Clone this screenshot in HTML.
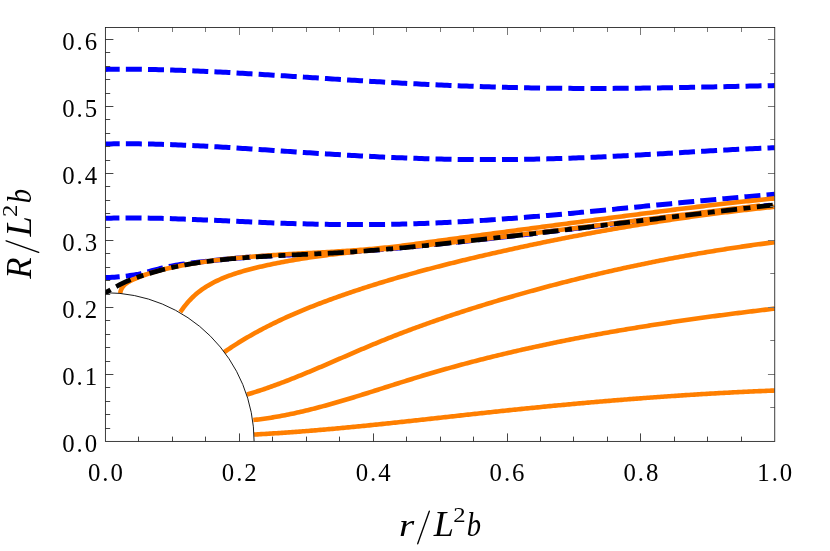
<!DOCTYPE html>
<html>
<head>
<meta charset="utf-8">
<title>R/L^2 b versus r/L^2 b</title>
<style>
html,body{margin:0;padding:0;background:#fff;}
body{width:830px;height:551px;overflow:hidden;font-family:"Liberation Serif",serif;}
svg{display:block;}
svg text{font-family:"Liberation Serif",serif;fill:#000;}
</style>
</head>
<body>
<svg width="830" height="551" viewBox="0 0 830 551">
<rect width="830" height="551" fill="#fff"/>
<defs><clipPath id="plot"><rect x="105.40" y="27.50" width="669.35" height="413.90"/></clipPath></defs>
<g fill="none" stroke-linecap="butt" stroke-linejoin="round" clip-path="url(#plot)">
<path d="M105.40 69.41L108.20 69.37L111.00 69.33L113.80 69.31L116.60 69.29L119.40 69.27L122.20 69.26L125.00 69.26L127.81 69.27L130.61 69.28L133.41 69.29L136.21 69.31L139.01 69.34L141.81 69.37L144.61 69.41L147.41 69.46L150.21 69.51L153.01 69.56L155.81 69.62L158.61 69.68L161.41 69.75L164.21 69.82L167.01 69.90L169.81 69.98L172.62 70.07L175.42 70.16L178.22 70.25L181.02 70.35L183.82 70.45L186.62 70.56L189.42 70.67L192.22 70.78L195.02 70.90L197.82 71.02L200.62 71.14L203.42 71.26L206.22 71.39L209.02 71.52L211.82 71.66L214.62 71.80L217.43 71.94L220.23 72.08L223.03 72.23L225.83 72.37L228.63 72.52L231.43 72.68L234.23 72.83L237.03 72.99L239.83 73.14L242.63 73.30L245.43 73.47L248.23 73.63L251.03 73.80L253.83 73.96L256.63 74.13L259.43 74.30L262.24 74.47L265.04 74.64L267.84 74.82L270.64 74.99L273.44 75.17L276.24 75.34L279.04 75.52L281.84 75.70L284.64 75.87L287.44 76.05L290.24 76.23L293.04 76.41L295.84 76.59L298.64 76.77L301.44 76.95L304.24 77.13L307.05 77.32L309.85 77.50L312.65 77.68L315.45 77.86L318.25 78.04L321.05 78.22L323.85 78.40L326.65 78.58L329.45 78.76L332.25 78.94L335.05 79.12L337.85 79.30L340.65 79.48L343.45 79.65L346.25 79.83L349.05 80.01L351.86 80.18L354.66 80.35L357.46 80.53L360.26 80.70L363.06 80.87L365.86 81.04L368.66 81.21L371.46 81.38L374.26 81.54L377.06 81.71L379.86 81.87L382.66 82.03L385.46 82.19L388.26 82.35L391.06 82.51L393.86 82.67L396.67 82.82L399.47 82.98L402.27 83.13L405.07 83.28L407.87 83.43L410.67 83.58L413.47 83.72L416.27 83.86L419.07 84.00L421.87 84.14L424.67 84.28L427.47 84.42L430.27 84.55L433.07 84.68L435.87 84.81L438.67 84.94L441.48 85.07L444.28 85.19L447.08 85.31L449.88 85.43L452.68 85.55L455.48 85.66L458.28 85.78L461.08 85.89L463.88 86.00L466.68 86.10L469.48 86.21L472.28 86.31L475.08 86.41L477.88 86.50L480.68 86.60L483.48 86.69L486.29 86.78L489.09 86.87L491.89 86.95L494.69 87.04L497.49 87.12L500.29 87.20L503.09 87.27L505.89 87.35L508.69 87.42L511.49 87.49L514.29 87.55L517.09 87.62L519.89 87.68L522.69 87.74L525.49 87.79L528.29 87.85L531.10 87.90L533.90 87.95L536.70 87.99L539.50 88.04L542.30 88.08L545.10 88.12L547.90 88.16L550.70 88.19L553.50 88.23L556.30 88.26L559.10 88.28L561.90 88.31L564.70 88.33L567.50 88.35L570.30 88.37L573.10 88.39L575.91 88.40L578.71 88.41L581.51 88.42L584.31 88.43L587.11 88.44L589.91 88.44L592.71 88.44L595.51 88.44L598.31 88.44L601.11 88.43L603.91 88.42L606.71 88.41L609.51 88.40L612.31 88.39L615.11 88.37L617.91 88.36L620.72 88.34L623.52 88.32L626.32 88.29L629.12 88.27L631.92 88.24L634.72 88.21L637.52 88.19L640.32 88.15L643.12 88.12L645.92 88.09L648.72 88.05L651.52 88.01L654.32 87.97L657.12 87.93L659.92 87.89L662.72 87.85L665.53 87.80L668.33 87.76L671.13 87.71L673.93 87.66L676.73 87.61L679.53 87.56L682.33 87.51L685.13 87.46L687.93 87.40L690.73 87.35L693.53 87.29L696.33 87.24L699.13 87.18L701.93 87.12L704.73 87.06L707.53 87.01L710.34 86.95L713.14 86.89L715.94 86.83L718.74 86.77L721.54 86.71L724.34 86.65L727.14 86.59L729.94 86.53L732.74 86.46L735.54 86.40L738.34 86.34L741.14 86.28L743.94 86.22L746.74 86.16L749.54 86.10L752.34 86.04L755.15 85.99L757.95 85.93L760.75 85.87L763.55 85.81L766.35 85.76L769.15 85.70L771.95 85.65L774.75 85.60" stroke="#0000ff" stroke-width="5.00" stroke-dasharray="16 6.15" stroke-dashoffset="1.70"/>
<path d="M105.40 144.01L108.20 143.95L111.00 143.90L113.80 143.86L116.60 143.83L119.40 143.81L122.20 143.79L125.00 143.78L127.81 143.78L130.61 143.79L133.41 143.80L136.21 143.82L139.01 143.85L141.81 143.89L144.61 143.93L147.41 143.98L150.21 144.03L153.01 144.10L155.81 144.16L158.61 144.24L161.41 144.31L164.21 144.40L167.01 144.49L169.81 144.58L172.62 144.68L175.42 144.79L178.22 144.90L181.02 145.01L183.82 145.13L186.62 145.25L189.42 145.38L192.22 145.51L195.02 145.64L197.82 145.78L200.62 145.92L203.42 146.07L206.22 146.22L209.02 146.37L211.82 146.53L214.62 146.68L217.43 146.84L220.23 147.01L223.03 147.17L225.83 147.34L228.63 147.51L231.43 147.68L234.23 147.85L237.03 148.03L239.83 148.21L242.63 148.39L245.43 148.57L248.23 148.75L251.03 148.93L253.83 149.11L256.63 149.30L259.43 149.49L262.24 149.67L265.04 149.86L267.84 150.05L270.64 150.23L273.44 150.42L276.24 150.61L279.04 150.80L281.84 150.99L284.64 151.18L287.44 151.37L290.24 151.55L293.04 151.74L295.84 151.93L298.64 152.11L301.44 152.30L304.24 152.48L307.05 152.67L309.85 152.85L312.65 153.03L315.45 153.22L318.25 153.40L321.05 153.57L323.85 153.75L326.65 153.93L329.45 154.10L332.25 154.27L335.05 154.44L337.85 154.61L340.65 154.78L343.45 154.95L346.25 155.11L349.05 155.27L351.86 155.43L354.66 155.59L357.46 155.74L360.26 155.89L363.06 156.04L365.86 156.19L368.66 156.34L371.46 156.48L374.26 156.62L377.06 156.76L379.86 156.89L382.66 157.02L385.46 157.15L388.26 157.28L391.06 157.40L393.86 157.52L396.67 157.64L399.47 157.75L402.27 157.87L405.07 157.97L407.87 158.08L410.67 158.18L413.47 158.28L416.27 158.37L419.07 158.47L421.87 158.56L424.67 158.64L427.47 158.72L430.27 158.80L433.07 158.88L435.87 158.95L438.67 159.02L441.48 159.08L444.28 159.14L447.08 159.20L449.88 159.25L452.68 159.30L455.48 159.35L458.28 159.39L461.08 159.43L463.88 159.47L466.68 159.50L469.48 159.53L472.28 159.55L475.08 159.57L477.88 159.59L480.68 159.60L483.48 159.61L486.29 159.62L489.09 159.62L491.89 159.62L494.69 159.62L497.49 159.61L500.29 159.60L503.09 159.58L505.89 159.56L508.69 159.54L511.49 159.51L514.29 159.48L517.09 159.45L519.89 159.41L522.69 159.37L525.49 159.33L528.29 159.28L531.10 159.23L533.90 159.17L536.70 159.11L539.50 159.05L542.30 158.99L545.10 158.92L547.90 158.85L550.70 158.77L553.50 158.69L556.30 158.61L559.10 158.53L561.90 158.44L564.70 158.35L567.50 158.26L570.30 158.16L573.10 158.06L575.91 157.96L578.71 157.85L581.51 157.74L584.31 157.63L587.11 157.52L589.91 157.40L592.71 157.28L595.51 157.16L598.31 157.04L601.11 156.91L603.91 156.78L606.71 156.65L609.51 156.52L612.31 156.38L615.11 156.24L617.91 156.10L620.72 155.96L623.52 155.82L626.32 155.67L629.12 155.52L631.92 155.38L634.72 155.22L637.52 155.07L640.32 154.92L643.12 154.76L645.92 154.61L648.72 154.45L651.52 154.29L654.32 154.13L657.12 153.97L659.92 153.81L662.72 153.64L665.53 153.48L668.33 153.32L671.13 153.15L673.93 152.99L676.73 152.82L679.53 152.66L682.33 152.49L685.13 152.33L687.93 152.16L690.73 152.00L693.53 151.83L696.33 151.67L699.13 151.50L701.93 151.34L704.73 151.18L707.53 151.01L710.34 150.85L713.14 150.69L715.94 150.53L718.74 150.38L721.54 150.22L724.34 150.07L727.14 149.91L729.94 149.76L732.74 149.61L735.54 149.47L738.34 149.32L741.14 149.18L743.94 149.04L746.74 148.90L749.54 148.77L752.34 148.63L755.15 148.51L757.95 148.38L760.75 148.26L763.55 148.14L766.35 148.02L769.15 147.91L771.95 147.80L774.75 147.70" stroke="#0000ff" stroke-width="5.00" stroke-dasharray="16 6.15" stroke-dashoffset="1.70"/>
<path d="M105.40 218.31L108.20 218.23L111.00 218.16L113.80 218.10L116.60 218.05L119.40 218.01L122.20 217.98L125.00 217.96L127.81 217.95L130.61 217.94L133.41 217.95L136.21 217.96L139.01 217.98L141.81 218.01L144.61 218.04L147.41 218.08L150.21 218.13L153.01 218.18L155.81 218.24L158.61 218.31L161.41 218.37L164.21 218.45L167.01 218.53L169.81 218.61L172.62 218.70L175.42 218.79L178.22 218.89L181.02 218.99L183.82 219.09L186.62 219.20L189.42 219.30L192.22 219.41L195.02 219.53L197.82 219.64L200.62 219.76L203.42 219.88L206.22 220.00L209.02 220.12L211.82 220.24L214.62 220.37L217.43 220.49L220.23 220.62L223.03 220.74L225.83 220.87L228.63 220.99L231.43 221.12L234.23 221.24L237.03 221.37L239.83 221.49L242.63 221.62L245.43 221.74L248.23 221.86L251.03 221.98L253.83 222.10L256.63 222.22L259.43 222.33L262.24 222.45L265.04 222.56L267.84 222.67L270.64 222.78L273.44 222.88L276.24 222.99L279.04 223.09L281.84 223.19L284.64 223.28L287.44 223.38L290.24 223.47L293.04 223.55L295.84 223.64L298.64 223.72L301.44 223.80L304.24 223.87L307.05 223.95L309.85 224.02L312.65 224.08L315.45 224.14L318.25 224.20L321.05 224.25L323.85 224.31L326.65 224.35L329.45 224.40L332.25 224.44L335.05 224.47L337.85 224.50L340.65 224.53L343.45 224.55L346.25 224.57L349.05 224.59L351.86 224.60L354.66 224.61L357.46 224.61L360.26 224.61L363.06 224.60L365.86 224.59L368.66 224.58L371.46 224.56L374.26 224.54L377.06 224.51L379.86 224.48L382.66 224.44L385.46 224.40L388.26 224.36L391.06 224.31L393.86 224.26L396.67 224.20L399.47 224.14L402.27 224.07L405.07 224.00L407.87 223.93L410.67 223.85L413.47 223.77L416.27 223.68L419.07 223.59L421.87 223.49L424.67 223.39L427.47 223.29L430.27 223.18L433.07 223.07L435.87 222.95L438.67 222.83L441.48 222.70L444.28 222.58L447.08 222.44L449.88 222.31L452.68 222.17L455.48 222.02L458.28 221.87L461.08 221.72L463.88 221.57L466.68 221.41L469.48 221.24L472.28 221.08L475.08 220.91L477.88 220.73L480.68 220.56L483.48 220.38L486.29 220.19L489.09 220.01L491.89 219.82L494.69 219.62L497.49 219.43L500.29 219.23L503.09 219.02L505.89 218.82L508.69 218.61L511.49 218.40L514.29 218.18L517.09 217.97L519.89 217.75L522.69 217.52L525.49 217.30L528.29 217.07L531.10 216.84L533.90 216.61L536.70 216.38L539.50 216.14L542.30 215.90L545.10 215.66L547.90 215.42L550.70 215.17L553.50 214.92L556.30 214.67L559.10 214.42L561.90 214.17L564.70 213.92L567.50 213.66L570.30 213.40L573.10 213.15L575.91 212.88L578.71 212.62L581.51 212.36L584.31 212.10L587.11 211.83L589.91 211.56L592.71 211.30L595.51 211.03L598.31 210.76L601.11 210.49L603.91 210.22L606.71 209.95L609.51 209.68L612.31 209.40L615.11 209.13L617.91 208.86L620.72 208.58L623.52 208.31L626.32 208.03L629.12 207.76L631.92 207.48L634.72 207.21L637.52 206.93L640.32 206.66L643.12 206.38L645.92 206.11L648.72 205.83L651.52 205.56L654.32 205.28L657.12 205.01L659.92 204.74L662.72 204.46L665.53 204.19L668.33 203.92L671.13 203.65L673.93 203.38L676.73 203.11L679.53 202.84L682.33 202.57L685.13 202.30L687.93 202.03L690.73 201.77L693.53 201.50L696.33 201.24L699.13 200.97L701.93 200.71L704.73 200.45L707.53 200.19L710.34 199.93L713.14 199.67L715.94 199.42L718.74 199.16L721.54 198.90L724.34 198.65L727.14 198.40L729.94 198.15L732.74 197.90L735.54 197.65L738.34 197.40L741.14 197.16L743.94 196.91L746.74 196.67L749.54 196.43L752.34 196.19L755.15 195.95L757.95 195.71L760.75 195.47L763.55 195.24L766.35 195.00L769.15 194.77L771.95 194.54L774.75 194.31" stroke="#0000ff" stroke-width="5.00" stroke-dasharray="16 6.15" stroke-dashoffset="2.00"/>
<path d="M105.40 277.61L107.63 277.53L109.86 277.42L112.10 277.30L114.33 277.16L116.57 277.00L118.80 276.82L121.03 276.62L123.26 276.40L125.49 276.15L127.71 275.89L129.93 275.59L132.14 275.27L134.35 274.91L136.55 274.51L138.74 274.08L140.92 273.59L143.09 273.05L145.25 272.48L147.41 271.90L149.58 271.32L151.74 270.74L153.90 270.17L156.07 269.61L158.24 269.07L160.41 268.53L162.59 268.01L164.77 267.51L166.95 267.03L169.13 266.56L171.32 266.12L173.52 265.70L175.72 265.30L177.92 264.93L180.13 264.59L182.34 264.26L184.56 263.95L186.78 263.66L189.00 263.37L191.22 263.10L193.45 262.83L195.67 262.57L197.89 262.31L200.12 262.05L202.34 261.79L204.57 261.53L206.79 261.28L209.02 261.02L211.24 260.77L213.47 260.53L215.69 260.29L217.92 260.05L220.15 259.81L222.37 259.58L224.60 259.35L226.83 259.13L229.05 258.91L231.28 258.69L233.51 258.48L235.74 258.28L237.96 258.08L240.19 257.89L242.42 257.70L244.65 257.52L246.88 257.35L249.11 257.18L251.35 257.02L253.58 256.86L255.81 256.71L258.04 256.56L260.27 256.42L262.51 256.28L264.74 256.15L266.98 256.02L269.21 255.90L271.44 255.78L273.68 255.66L275.91 255.55L278.15 255.44L280.38 255.33L282.62 255.22L284.85 255.12L287.09 255.02L289.33 254.91L291.56 254.82L293.80 254.72L296.03 254.62L298.27 254.52L300.51 254.43L302.74 254.33L304.98 254.23L307.21 254.14L309.45 254.04L311.69 253.94L313.92 253.84L316.16 253.74L318.39 253.64L320.63 253.53L322.87 253.43L325.10 253.32L327.34 253.21L329.57 253.09L331.81 252.97L334.04 252.85L336.27 252.73L338.51 252.60L340.74 252.47L342.98 252.33L345.21 252.19L347.44 252.05L349.68 251.90L351.91 251.75L354.14 251.60L356.37 251.44L358.60 251.28L360.84 251.12L363.07 250.95L365.30 250.78L367.53 250.61L369.76 250.43L371.99 250.26L374.22 250.08L376.45 249.89L378.68 249.71L380.91 249.52L383.14 249.33L385.37 249.14L387.60 248.94L389.83 248.75L392.06 248.55L394.29 248.35L396.51 248.14L398.74 247.94L400.97 247.73L403.20 247.52L405.43 247.31L407.65 247.10L409.88 246.89L412.11 246.67L414.34 246.46L416.56 246.24L418.79 246.02L421.02 245.80L423.25 245.58L425.47 245.35L427.70 245.13L429.93 244.91L432.15 244.68L434.38 244.45L436.60 244.23L438.83 244.00L441.06 243.77L443.28 243.54L445.51 243.30L447.73 243.07L449.96 242.84L452.18 242.60L454.41 242.37L456.64 242.13L458.86 241.90L461.09 241.66L463.31 241.42L465.54 241.18L467.76 240.94L469.98 240.70L472.21 240.45L474.43 240.21L476.66 239.97L478.88 239.72L481.11 239.48L483.33 239.23L485.55 238.98L487.78 238.74L490.00 238.49L492.23 238.24L494.45 237.99L496.67 237.74L498.90 237.49L501.12 237.24L503.34 236.98L505.57 236.73L507.79 236.48L510.01 236.22L512.24 235.97L514.46 235.71L516.68 235.46L518.91 235.20L521.13 234.94L523.35 234.69L525.58 234.43L527.80 234.17L530.02 233.91L532.24 233.65L534.47 233.39L536.69 233.13L538.91 232.87L541.13 232.61L543.36 232.34L545.58 232.08L547.80 231.82L550.02 231.55L552.24 231.29L554.47 231.03L556.69 230.76L558.91 230.50L561.13 230.23L563.35 229.96L565.58 229.70L567.80 229.43L570.02 229.17L572.24 228.90L574.46 228.63L576.69 228.36L578.91 228.10L581.13 227.83L583.35 227.56L585.57 227.29L587.79 227.02L590.02 226.75L592.24 226.48L594.46 226.21L596.68 225.94L598.90 225.67L601.12 225.41L603.34 225.14L605.57 224.86L607.79 224.59L610.01 224.32L612.23 224.05L614.45 223.78L616.67 223.51L618.89 223.24L621.12 222.97L623.34 222.70L625.56 222.43L627.78 222.16L630.00 221.89L632.22 221.62L634.44 221.35L636.67 221.08L638.89 220.80L641.11 220.53L643.33 220.26L645.55 219.99L647.77 219.72L649.99 219.45L652.22 219.18L654.44 218.91L656.66 218.64L658.88 218.37L661.10 218.10L663.32 217.83L665.54 217.56L667.77 217.29L669.99 217.03L672.21 216.76L674.43 216.49L676.65 216.22L678.87 215.95L681.10 215.68L683.32 215.42L685.54 215.15L687.76 214.88L689.98 214.62L692.21 214.35L694.43 214.08L696.65 213.82L698.87 213.55L701.09 213.29L703.31 213.02L705.54 212.76L707.76 212.49L709.98 212.23L712.20 211.97L714.43 211.71L716.65 211.44L718.87 211.18L721.09 210.92L723.32 210.66L725.54 210.40L727.76 210.14L729.98 209.88L732.21 209.62L734.43 209.36L736.65 209.11L738.87 208.85L741.10 208.59L743.32 208.34L745.54 208.08L747.77 207.83L749.99 207.57L752.21 207.32L754.44 207.07L756.66 206.81L758.88 206.56L761.11 206.31L763.33 206.06L765.55 205.81L767.78 205.56L770.00 205.32" stroke="#0000ff" stroke-width="5.00" stroke-dasharray="16 6.15" stroke-dashoffset="1.70"/>
<path d="M254.10 434.52L255.85 434.43L257.59 434.34L259.34 434.24L261.08 434.15L262.83 434.05L264.57 433.95L266.32 433.85L268.06 433.74L269.81 433.64L271.55 433.53L273.30 433.42L275.04 433.31L276.79 433.20L278.53 433.09L280.27 432.97L282.02 432.85L283.76 432.74L285.50 432.62L287.25 432.49L288.99 432.37L290.73 432.25L292.48 432.12L294.22 431.99L295.96 431.86L297.70 431.73L299.45 431.60L301.19 431.47L302.93 431.33L304.67 431.20L306.41 431.06L308.16 430.92L309.90 430.78L311.64 430.64L313.38 430.50L315.12 430.35L316.86 430.21L318.60 430.06L320.35 429.91L322.09 429.76L323.83 429.61L325.57 429.46L327.31 429.31L329.05 429.16L330.79 429.00L332.53 428.84L334.27 428.69L336.01 428.53L337.75 428.37L339.49 428.21L341.23 428.05L342.97 427.89L344.71 427.72L346.45 427.56L348.19 427.39L349.93 427.23L351.67 427.06L353.41 426.89L355.15 426.72L356.89 426.55L358.62 426.38L360.36 426.21L362.10 426.04L363.84 425.87L365.58 425.69L367.32 425.52L369.06 425.34L370.80 425.16L372.53 424.99L374.27 424.81L376.01 424.63L377.75 424.45L379.49 424.27L381.23 424.09L382.97 423.91L384.70 423.73L386.44 423.55L388.18 423.37L389.92 423.18L391.66 423.00L393.39 422.81L395.13 422.63L396.87 422.44L398.61 422.26L400.35 422.07L402.08 421.89L403.82 421.70L405.56 421.51L407.30 421.32L409.03 421.13L410.77 420.95L412.51 420.76L414.25 420.57L415.99 420.38L417.72 420.19L419.46 420.00L421.20 419.81L422.94 419.62L424.67 419.43L426.41 419.24L428.15 419.04L429.89 418.85L431.62 418.66L433.36 418.47L435.10 418.28L436.84 418.09L438.57 417.89L440.31 417.70L442.05 417.51L443.79 417.32L445.52 417.13L447.26 416.93L449.00 416.74L450.74 416.55L452.47 416.36L454.21 416.17L455.95 415.97L457.69 415.78L459.42 415.59L461.16 415.40L462.90 415.21L464.64 415.02L466.37 414.83L468.11 414.64L469.85 414.44L471.59 414.25L473.32 414.06L475.06 413.87L476.80 413.69L478.54 413.50L480.28 413.31L482.01 413.12L483.75 412.93L485.49 412.74L487.23 412.56L488.97 412.37L490.70 412.18L492.44 412.00L494.18 411.81L495.92 411.63L497.66 411.44L499.39 411.26L501.13 411.07L502.87 410.89L504.61 410.71L506.35 410.53L508.09 410.34L509.83 410.16L511.56 409.98L513.30 409.80L515.04 409.62L516.78 409.45L518.52 409.27L520.26 409.09L522.00 408.91L523.74 408.74L525.48 408.56L527.22 408.38L528.95 408.21L530.69 408.04L532.43 407.86L534.17 407.69L535.91 407.52L537.65 407.35L539.39 407.17L541.13 407.00L542.87 406.83L544.61 406.66L546.35 406.50L548.09 406.33L549.83 406.16L551.57 405.99L553.31 405.83L555.05 405.66L556.79 405.49L558.53 405.33L560.27 405.17L562.01 405.00L563.75 404.84L565.49 404.68L567.23 404.52L568.97 404.36L570.71 404.20L572.45 404.04L574.19 403.88L575.93 403.72L577.67 403.56L579.42 403.40L581.16 403.25L582.90 403.09L584.64 402.94L586.38 402.78L588.12 402.63L589.86 402.48L591.60 402.32L593.34 402.17L595.08 402.02L596.83 401.87L598.57 401.72L600.31 401.57L602.05 401.42L603.79 401.28L605.53 401.13L607.28 400.98L609.02 400.84L610.76 400.69L612.50 400.55L614.24 400.40L615.98 400.26L617.73 400.12L619.47 399.98L621.21 399.84L622.95 399.70L624.70 399.56L626.44 399.42L628.18 399.28L629.92 399.14L631.66 399.01L633.41 398.87L635.15 398.74L636.89 398.60L638.64 398.47L640.38 398.34L642.12 398.20L643.86 398.07L645.61 397.94L647.35 397.81L649.09 397.68L650.84 397.55L652.58 397.43L654.32 397.30L656.07 397.17L657.81 397.05L659.55 396.92L661.30 396.80L663.04 396.68L664.78 396.55L666.53 396.43L668.27 396.31L670.01 396.19L671.76 396.07L673.50 395.96L675.25 395.84L676.99 395.72L678.73 395.60L680.48 395.49L682.22 395.38L683.97 395.26L685.71 395.15L687.45 395.04L689.20 394.93L690.94 394.81L692.69 394.71L694.43 394.60L696.18 394.49L697.92 394.38L699.67 394.27L701.41 394.17L703.16 394.06L704.90 393.96L706.65 393.86L708.39 393.76L710.14 393.65L711.88 393.55L713.63 393.45L715.37 393.35L717.12 393.26L718.86 393.16L720.61 393.06L722.35 392.97L724.10 392.87L725.85 392.78L727.59 392.69L729.34 392.59L731.08 392.50L732.83 392.41L734.58 392.32L736.32 392.23L738.07 392.15L739.81 392.06L741.56 391.97L743.31 391.89L745.05 391.80L746.80 391.72L748.55 391.64L750.29 391.56L752.04 391.48L753.79 391.40L755.53 391.32L757.28 391.24L759.03 391.16L760.77 391.09L762.52 391.01L764.27 390.94L766.01 390.86L767.76 390.79L769.51 390.72L771.26 390.65L773.00 390.58L774.75 390.51" stroke="#ff7f00" stroke-width="4.60"/>
<path d="M253.30 420.02L255.09 419.83L256.87 419.63L258.65 419.42L260.43 419.19L262.21 418.96L263.98 418.72L265.75 418.47L267.52 418.22L269.29 417.95L271.05 417.67L272.82 417.39L274.58 417.10L276.34 416.80L278.10 416.49L279.85 416.17L281.61 415.85L283.36 415.52L285.11 415.18L286.86 414.83L288.61 414.48L290.35 414.12L292.10 413.75L293.84 413.38L295.58 413.00L297.32 412.61L299.06 412.22L300.80 411.82L302.53 411.42L304.27 411.01L306.00 410.59L307.73 410.17L309.46 409.74L311.19 409.31L312.92 408.87L314.64 408.43L316.37 407.98L318.09 407.53L319.82 407.08L321.54 406.62L323.26 406.15L324.98 405.68L326.70 405.21L328.42 404.73L330.14 404.25L331.86 403.77L333.57 403.28L335.29 402.79L337.00 402.29L338.72 401.79L340.43 401.29L342.14 400.79L343.85 400.28L345.57 399.77L347.28 399.26L348.99 398.75L350.70 398.23L352.41 397.71L354.11 397.19L355.82 396.66L357.53 396.14L359.24 395.61L360.94 395.08L362.65 394.55L364.36 394.02L366.06 393.48L367.77 392.95L369.47 392.41L371.18 391.87L372.89 391.33L374.59 390.79L376.29 390.25L378.00 389.71L379.70 389.17L381.41 388.63L383.11 388.09L384.82 387.55L386.52 387.00L388.23 386.46L389.93 385.92L391.64 385.38L393.34 384.84L395.05 384.30L396.75 383.76L398.46 383.22L400.17 382.68L401.87 382.14L403.58 381.61L405.29 381.07L406.99 380.54L408.70 380.01L410.41 379.48L412.12 378.95L413.83 378.42L415.54 377.89L417.25 377.37L418.96 376.85L420.67 376.33L422.38 375.82L424.09 375.30L425.81 374.79L427.52 374.28L429.24 373.77L430.95 373.27L432.67 372.77L434.38 372.27L436.10 371.77L437.82 371.27L439.53 370.78L441.25 370.29L442.97 369.80L444.69 369.31L446.41 368.83L448.13 368.35L449.86 367.87L451.58 367.39L453.30 366.91L455.02 366.44L456.75 365.97L458.47 365.50L460.20 365.03L461.92 364.57L463.65 364.10L465.37 363.64L467.10 363.18L468.83 362.73L470.56 362.27L472.28 361.82L474.01 361.37L475.74 360.92L477.47 360.48L479.20 360.03L480.94 359.59L482.67 359.15L484.40 358.72L486.13 358.28L487.87 357.85L489.60 357.42L491.33 356.99L493.07 356.56L494.80 356.13L496.54 355.71L498.27 355.29L500.01 354.87L501.75 354.45L503.49 354.04L505.22 353.62L506.96 353.21L508.70 352.80L510.44 352.39L512.18 351.99L513.92 351.58L515.66 351.18L517.40 350.78L519.14 350.38L520.89 349.99L522.63 349.59L524.37 349.20L526.12 348.81L527.86 348.42L529.60 348.03L531.35 347.65L533.09 347.27L534.84 346.88L536.58 346.50L538.33 346.13L540.08 345.75L541.82 345.38L543.57 345.00L545.32 344.63L547.07 344.26L548.82 343.90L550.57 343.53L552.32 343.17L554.07 342.81L555.82 342.45L557.57 342.09L559.32 341.73L561.07 341.38L562.82 341.02L564.57 340.67L566.32 340.32L568.08 339.97L569.83 339.63L571.58 339.28L573.34 338.94L575.09 338.60L576.85 338.26L578.60 337.92L580.36 337.58L582.11 337.24L583.87 336.91L585.62 336.58L587.38 336.25L589.14 335.92L590.89 335.59L592.65 335.27L594.41 334.94L596.17 334.62L597.93 334.30L599.68 333.98L601.44 333.66L603.20 333.34L604.96 333.03L606.72 332.72L608.48 332.40L610.24 332.09L612.00 331.78L613.76 331.48L615.52 331.17L617.29 330.86L619.05 330.56L620.81 330.26L622.57 329.96L624.33 329.66L626.10 329.36L627.86 329.07L629.62 328.77L631.39 328.48L633.15 328.19L634.91 327.90L636.68 327.61L638.44 327.32L640.21 327.03L641.97 326.75L643.74 326.46L645.50 326.18L647.27 325.90L649.03 325.62L650.80 325.34L652.57 325.06L654.33 324.79L656.10 324.51L657.87 324.24L659.63 323.97L661.40 323.69L663.17 323.42L664.94 323.16L666.70 322.89L668.47 322.62L670.24 322.36L672.01 322.09L673.78 321.83L675.54 321.57L677.31 321.31L679.08 321.05L680.85 320.79L682.62 320.54L684.39 320.28L686.16 320.03L687.93 319.77L689.70 319.52L691.47 319.27L693.24 319.02L695.01 318.77L696.78 318.52L698.55 318.28L700.32 318.03L702.09 317.79L703.86 317.55L705.63 317.30L707.40 317.06L709.17 316.82L710.94 316.58L712.72 316.34L714.49 316.11L716.26 315.87L718.03 315.64L719.80 315.40L721.57 315.17L723.35 314.94L725.12 314.71L726.89 314.48L728.66 314.25L730.43 314.02L732.21 313.79L733.98 313.56L735.75 313.34L737.52 313.11L739.29 312.89L741.07 312.67L742.84 312.45L744.61 312.22L746.38 312.00L748.16 311.79L749.93 311.57L751.70 311.35L753.48 311.13L755.25 310.92L757.02 310.70L758.79 310.49L760.57 310.27L762.34 310.06L764.11 309.85L765.88 309.64L767.66 309.43L769.43 309.22L771.20 309.01L772.98 308.80L774.75 308.59" stroke="#ff7f00" stroke-width="4.60"/>
<path d="M246.90 394.61L248.67 394.07L250.44 393.53L252.20 392.99L253.96 392.43L255.72 391.87L257.48 391.30L259.23 390.73L260.98 390.15L262.73 389.56L264.48 388.97L266.22 388.37L267.96 387.76L269.70 387.15L271.44 386.53L273.17 385.91L274.90 385.28L276.63 384.65L278.36 384.01L280.09 383.37L281.81 382.72L283.54 382.06L285.26 381.40L286.98 380.74L288.70 380.08L290.41 379.40L292.13 378.73L293.84 378.05L295.55 377.37L297.26 376.68L298.97 375.99L300.68 375.30L302.38 374.60L304.09 373.90L305.79 373.20L307.50 372.49L309.20 371.78L310.90 371.07L312.60 370.36L314.30 369.64L316.00 368.93L317.69 368.21L319.39 367.48L321.09 366.76L322.78 366.04L324.48 365.31L326.17 364.58L327.87 363.85L329.56 363.12L331.25 362.39L332.95 361.66L334.64 360.93L336.33 360.19L338.02 359.46L339.72 358.73L341.41 357.99L343.10 357.26L344.79 356.53L346.49 355.79L348.18 355.06L349.87 354.33L351.56 353.60L353.26 352.87L354.95 352.14L356.65 351.41L358.34 350.68L360.04 349.96L361.73 349.23L363.43 348.51L365.13 347.79L366.83 347.07L368.53 346.35L370.23 345.64L371.93 344.93L373.63 344.22L375.33 343.51L377.04 342.80L378.74 342.10L380.45 341.40L382.16 340.71L383.87 340.02L385.58 339.33L387.29 338.64L389.00 337.96L390.72 337.28L392.43 336.60L394.15 335.93L395.87 335.26L397.58 334.59L399.30 333.93L401.02 333.26L402.75 332.61L404.47 331.95L406.19 331.30L407.92 330.65L409.65 330.00L411.37 329.35L413.10 328.71L414.83 328.07L416.56 327.44L418.29 326.80L420.03 326.17L421.76 325.55L423.50 324.92L425.23 324.30L426.97 323.68L428.71 323.06L430.44 322.45L432.18 321.83L433.92 321.22L435.67 320.62L437.41 320.01L439.15 319.41L440.90 318.81L442.64 318.21L444.39 317.62L446.13 317.03L447.88 316.44L449.63 315.85L451.38 315.27L453.13 314.68L454.88 314.10L456.63 313.53L458.39 312.95L460.14 312.38L461.89 311.81L463.65 311.24L465.40 310.67L467.16 310.11L468.92 309.55L470.68 308.99L472.43 308.43L474.19 307.88L475.95 307.32L477.71 306.77L479.48 306.22L481.24 305.68L483.00 305.13L484.76 304.59L486.53 304.05L488.29 303.51L490.06 302.97L491.82 302.44L493.59 301.90L495.36 301.37L497.12 300.84L498.89 300.32L500.66 299.79L502.43 299.27L504.20 298.75L505.97 298.23L507.74 297.71L509.51 297.19L511.28 296.68L513.06 296.17L514.83 295.66L516.60 295.15L518.38 294.64L520.15 294.14L521.93 293.63L523.70 293.13L525.48 292.63L527.26 292.14L529.03 291.64L530.81 291.15L532.59 290.66L534.37 290.17L536.15 289.68L537.93 289.19L539.71 288.71L541.49 288.23L543.27 287.74L545.05 287.27L546.83 286.79L548.61 286.31L550.40 285.84L552.18 285.37L553.97 284.90L555.75 284.43L557.54 283.97L559.32 283.51L561.11 283.04L562.89 282.59L564.68 282.13L566.47 281.67L568.26 281.22L570.05 280.77L571.83 280.32L573.62 279.87L575.41 279.42L577.20 278.98L579.00 278.53L580.79 278.09L582.58 277.65L584.37 277.22L586.16 276.78L587.96 276.35L589.75 275.92L591.54 275.49L593.34 275.06L595.13 274.64L596.93 274.21L598.72 273.79L600.52 273.37L602.32 272.96L604.12 272.54L605.91 272.13L607.71 271.71L609.51 271.30L611.31 270.90L613.11 270.49L614.91 270.09L616.71 269.68L618.51 269.28L620.31 268.88L622.11 268.49L623.91 268.09L625.71 267.70L627.52 267.31L629.32 266.92L631.12 266.54L632.93 266.15L634.73 265.77L636.54 265.39L638.34 265.01L640.15 264.63L641.95 264.26L643.76 263.88L645.57 263.51L647.37 263.14L649.18 262.77L650.99 262.41L652.80 262.05L654.61 261.68L656.42 261.32L658.23 260.97L660.04 260.61L661.85 260.26L663.66 259.91L665.47 259.56L667.28 259.21L669.09 258.86L670.90 258.52L672.72 258.18L674.53 257.84L676.34 257.50L678.16 257.16L679.97 256.83L681.78 256.50L683.60 256.17L685.41 255.84L687.23 255.51L689.04 255.19L690.86 254.87L692.68 254.55L694.49 254.23L696.31 253.91L698.13 253.60L699.95 253.28L701.76 252.97L703.58 252.67L705.40 252.36L707.22 252.05L709.04 251.75L710.86 251.45L712.68 251.15L714.50 250.86L716.32 250.56L718.14 250.27L719.96 249.98L721.79 249.69L723.61 249.40L725.43 249.12L727.25 248.84L729.08 248.56L730.90 248.28L732.72 248.00L734.55 247.73L736.37 247.46L738.20 247.18L740.02 246.92L741.85 246.65L743.67 246.39L745.50 246.12L747.32 245.86L749.15 245.60L750.98 245.35L752.80 245.09L754.63 244.84L756.46 244.59L758.29 244.34L760.11 244.10L761.94 243.85L763.77 243.61L765.60 243.37L767.43 243.13L769.26 242.89L771.09 242.66L772.92 242.43L774.75 242.20" stroke="#ff7f00" stroke-width="4.60"/>
<path d="M224.29 352.09L225.88 350.99L227.47 349.90L229.07 348.82L230.68 347.75L232.29 346.69L233.91 345.64L235.53 344.60L237.15 343.57L238.78 342.55L240.41 341.54L242.05 340.54L243.70 339.54L245.35 338.56L247.00 337.59L248.65 336.62L250.32 335.66L251.98 334.72L253.65 333.78L255.33 332.85L257.01 331.93L258.69 331.01L260.37 330.11L262.06 329.21L263.76 328.32L265.46 327.44L267.16 326.57L268.87 325.70L270.58 324.84L272.29 323.99L274.01 323.15L275.73 322.31L277.45 321.48L279.18 320.66L280.91 319.85L282.64 319.04L284.38 318.24L286.12 317.45L287.86 316.66L289.61 315.88L291.36 315.11L293.11 314.34L294.86 313.58L296.62 312.82L298.38 312.07L300.14 311.33L301.91 310.59L303.68 309.86L305.45 309.13L307.22 308.41L309.00 307.69L310.78 306.98L312.56 306.28L314.34 305.58L316.12 304.88L317.91 304.20L319.70 303.51L321.49 302.83L323.28 302.15L325.08 301.48L326.87 300.82L328.67 300.15L330.47 299.49L332.27 298.84L334.08 298.19L335.88 297.54L337.69 296.90L339.50 296.26L341.30 295.63L343.11 294.99L344.93 294.37L346.74 293.74L348.55 293.12L350.37 292.50L352.19 291.89L354.00 291.28L355.82 290.67L357.64 290.07L359.46 289.46L361.29 288.87L363.11 288.27L364.94 287.68L366.76 287.09L368.59 286.51L370.42 285.93L372.25 285.35L374.08 284.77L375.91 284.20L377.74 283.63L379.58 283.07L381.41 282.50L383.25 281.94L385.09 281.39L386.92 280.83L388.76 280.28L390.60 279.73L392.44 279.19L394.29 278.65L396.13 278.11L397.97 277.57L399.82 277.04L401.66 276.51L403.51 275.98L405.36 275.45L407.20 274.93L409.05 274.41L410.90 273.89L412.75 273.37L414.61 272.86L416.46 272.35L418.31 271.84L420.16 271.34L422.02 270.84L423.87 270.34L425.73 269.84L427.59 269.34L429.45 268.85L431.30 268.36L433.16 267.87L435.02 267.39L436.88 266.90L438.74 266.42L440.60 265.94L442.47 265.47L444.33 264.99L446.19 264.52L448.06 264.05L449.92 263.58L451.79 263.11L453.65 262.65L455.52 262.19L457.38 261.73L459.25 261.27L461.12 260.81L462.99 260.36L464.85 259.91L466.72 259.46L468.59 259.01L470.46 258.56L472.33 258.12L474.20 257.67L476.07 257.23L477.94 256.79L479.81 256.35L481.69 255.92L483.56 255.48L485.43 255.05L487.30 254.62L489.18 254.19L491.05 253.76L492.92 253.33L494.80 252.91L496.67 252.49L498.54 252.06L500.42 251.64L502.29 251.22L504.17 250.81L506.04 250.39L507.92 249.97L509.79 249.56L511.67 249.15L513.54 248.74L515.42 248.33L517.29 247.92L519.17 247.51L521.05 247.11L522.92 246.71L524.80 246.30L526.68 245.90L528.55 245.50L530.43 245.11L532.31 244.71L534.19 244.31L536.06 243.92L537.94 243.53L539.82 243.14L541.70 242.75L543.58 242.36L545.46 241.98L547.34 241.59L549.22 241.21L551.10 240.83L552.98 240.45L554.86 240.07L556.74 239.69L558.62 239.31L560.50 238.94L562.38 238.57L564.26 238.20L566.14 237.83L568.02 237.46L569.90 237.09L571.79 236.73L573.67 236.36L575.55 236.00L577.43 235.64L579.32 235.28L581.20 234.92L583.08 234.56L584.97 234.21L586.85 233.86L588.74 233.51L590.62 233.16L592.50 232.81L594.39 232.46L596.27 232.11L598.16 231.77L600.05 231.43L601.93 231.09L603.82 230.75L605.70 230.41L607.59 230.07L609.48 229.74L611.37 229.40L613.25 229.07L615.14 228.74L617.03 228.41L618.92 228.09L620.81 227.76L622.69 227.44L624.58 227.12L626.47 226.79L628.36 226.48L630.25 226.16L632.14 225.84L634.03 225.53L635.92 225.21L637.81 224.90L639.70 224.59L641.60 224.29L643.49 223.98L645.38 223.67L647.27 223.37L649.16 223.07L651.06 222.77L652.95 222.47L654.84 222.17L656.74 221.88L658.63 221.58L660.53 221.29L662.42 221.00L664.31 220.71L666.21 220.42L668.11 220.14L670.00 219.86L671.90 219.57L673.79 219.29L675.69 219.01L677.59 218.74L679.48 218.46L681.38 218.19L683.28 217.91L685.18 217.64L687.08 217.37L688.97 217.10L690.87 216.84L692.77 216.57L694.67 216.31L696.57 216.05L698.47 215.79L700.37 215.53L702.27 215.28L704.17 215.02L706.08 214.77L707.98 214.52L709.88 214.27L711.78 214.02L713.69 213.77L715.59 213.53L717.49 213.29L719.40 213.05L721.30 212.81L723.20 212.57L725.11 212.33L727.01 212.10L728.92 211.87L730.83 211.64L732.73 211.41L734.64 211.18L736.54 210.95L738.45 210.73L740.36 210.51L742.27 210.29L744.17 210.07L746.08 209.85L747.99 209.63L749.90 209.42L751.81 209.21L753.72 209.00L755.63 208.79L757.54 208.58L759.45 208.38L761.36 208.17L763.27 207.97L765.19 207.77L767.10 207.57L769.01 207.38L770.92 207.18L772.84 206.99L774.75 206.80" stroke="#ff7f00" stroke-width="4.60"/>
<path d="M180.31 312.12L181.45 310.47L182.62 308.85L183.83 307.24L185.06 305.66L186.33 304.10L187.63 302.57L188.97 301.07L190.34 299.60L191.73 298.17L193.17 296.76L194.63 295.40L196.12 294.07L197.65 292.78L199.21 291.54L200.80 290.34L202.42 289.17L204.07 288.05L205.74 286.96L207.44 285.91L209.16 284.90L210.90 283.92L212.65 282.97L214.43 282.05L216.22 281.16L218.02 280.31L219.84 279.48L221.66 278.68L223.50 277.90L225.36 277.15L227.22 276.42L229.09 275.72L230.97 275.04L232.86 274.38L234.76 273.74L236.66 273.12L238.58 272.52L240.50 271.94L242.42 271.37L244.35 270.82L246.29 270.28L248.23 269.76L250.17 269.25L252.11 268.75L254.06 268.26L256.01 267.78L257.96 267.31L259.91 266.85L261.86 266.40L263.81 265.95L265.76 265.51L267.72 265.08L269.67 264.66L271.63 264.25L273.58 263.84L275.54 263.44L277.49 263.04L279.45 262.65L281.41 262.27L283.37 261.90L285.33 261.53L287.30 261.17L289.26 260.82L291.23 260.47L293.19 260.12L295.16 259.79L297.13 259.45L299.10 259.13L301.07 258.81L303.04 258.49L305.02 258.18L306.99 257.88L308.97 257.58L310.94 257.28L312.92 256.99L314.90 256.71L316.88 256.43L318.86 256.15L320.84 255.88L322.82 255.62L324.81 255.35L326.79 255.10L328.78 254.84L330.76 254.59L332.75 254.35L334.73 254.10L336.72 253.87L338.71 253.63L340.70 253.40L342.69 253.17L344.68 252.95L346.66 252.73L348.65 252.51L350.65 252.30L352.64 252.09L354.63 251.88L356.62 251.67L358.61 251.47L360.60 251.27L362.59 251.07L364.59 250.88L366.58 250.69L368.57 250.50L370.56 250.31L372.55 250.12L374.55 249.94L376.54 249.76L378.53 249.57L380.52 249.39L382.51 249.22L384.51 249.04L386.50 248.86L388.49 248.68L390.48 248.50L392.47 248.32L394.46 248.14L396.46 247.96L398.45 247.78L400.44 247.60L402.43 247.42L404.42 247.23L406.41 247.04L408.40 246.86L410.39 246.67L412.38 246.48L414.37 246.28L416.36 246.09L418.35 245.90L420.34 245.70L422.34 245.50L424.33 245.30L426.31 245.10L428.30 244.90L430.29 244.70L432.28 244.50L434.27 244.29L436.26 244.09L438.25 243.88L440.24 243.67L442.23 243.46L444.22 243.25L446.21 243.04L448.20 242.83L450.19 242.62L452.18 242.41L454.16 242.19L456.15 241.98L458.14 241.76L460.13 241.54L462.12 241.33L464.11 241.11L466.10 240.89L468.08 240.67L470.07 240.45L472.06 240.23L474.05 240.01L476.04 239.79L478.02 239.56L480.01 239.34L482.00 239.12L483.99 238.89L485.97 238.67L487.96 238.44L489.95 238.22L491.94 237.99L493.92 237.76L495.91 237.54L497.90 237.31L499.89 237.08L501.87 236.85L503.86 236.62L505.85 236.39L507.83 236.16L509.82 235.93L511.81 235.70L513.79 235.47L515.78 235.24L517.77 235.00L519.75 234.77L521.74 234.54L523.73 234.30L525.71 234.07L527.70 233.83L529.68 233.60L531.67 233.36L533.66 233.13L535.64 232.89L537.63 232.66L539.62 232.42L541.60 232.18L543.59 231.94L545.57 231.71L547.56 231.47L549.54 231.23L551.53 230.99L553.52 230.75L555.50 230.51L557.49 230.27L559.47 230.03L561.46 229.79L563.44 229.55L565.43 229.31L567.42 229.07L569.40 228.83L571.39 228.59L573.37 228.35L575.36 228.11L577.34 227.86L579.33 227.62L581.31 227.38L583.30 227.14L585.28 226.89L587.27 226.65L589.25 226.41L591.24 226.16L593.22 225.92L595.21 225.67L597.19 225.43L599.18 225.19L601.17 224.94L603.15 224.70L605.14 224.45L607.12 224.21L609.11 223.96L611.09 223.72L613.08 223.47L615.06 223.23L617.05 222.98L619.03 222.74L621.02 222.49L623.00 222.25L624.99 222.00L626.97 221.76L628.96 221.51L630.94 221.27L632.93 221.02L634.91 220.78L636.90 220.53L638.88 220.29L640.87 220.04L642.85 219.80L644.84 219.55L646.82 219.30L648.81 219.06L650.79 218.81L652.78 218.57L654.76 218.32L656.75 218.08L658.73 217.83L660.72 217.59L662.70 217.34L664.69 217.10L666.67 216.85L668.66 216.61L670.64 216.36L672.63 216.12L674.61 215.88L676.60 215.63L678.58 215.39L680.57 215.14L682.55 214.90L684.54 214.66L686.52 214.41L688.51 214.17L690.49 213.93L692.48 213.69L694.46 213.44L696.45 213.20L698.43 212.96L700.42 212.72L702.40 212.47L704.39 212.23L706.38 211.99L708.36 211.75L710.35 211.51L712.33 211.27L714.32 211.03L716.30 210.79L718.29 210.55L720.28 210.31L722.26 210.07L724.25 209.83L726.23 209.59L728.22 209.36L730.20 209.12L732.19 208.88L734.18 208.64L736.16 208.41L738.15 208.17L740.14 207.93L742.12 207.70L744.11 207.46L746.09 207.23L748.08 206.99L750.07 206.76L752.05 206.53L754.04 206.29L756.03 206.06L758.01 205.83L760.00 205.60" stroke="#ff7f00" stroke-width="4.60"/>
<path d="M120.17 293.24L120.70 290.86L121.55 288.76L122.69 286.90L124.08 285.27L125.67 283.83L127.43 282.55L129.32 281.41L131.31 280.38L133.36 279.43L135.43 278.52L137.51 277.65L139.60 276.82L141.69 276.02L143.80 275.26L145.92 274.52L148.04 273.82L150.17 273.14L152.31 272.49L154.45 271.86L156.60 271.26L158.76 270.68L160.92 270.11L163.08 269.57L165.25 269.04L167.42 268.53L169.59 268.03L171.77 267.55L173.95 267.08L176.14 266.62L178.32 266.18L180.51 265.75L182.70 265.33L184.90 264.92L187.09 264.53L189.29 264.15L191.49 263.77L193.69 263.41L195.90 263.06L198.10 262.72L200.31 262.39L202.52 262.07L204.73 261.76L206.95 261.46L209.16 261.16L211.37 260.87L213.59 260.59L215.81 260.32L218.03 260.06L220.24 259.80L222.46 259.54L224.68 259.30L226.90 259.06L229.12 258.82L231.34 258.59L233.56 258.36L235.79 258.14L238.01 257.93L240.23 257.72L242.45 257.51L244.67 257.31L246.90 257.11L249.12 256.92L251.35 256.74L253.57 256.55L255.79 256.37L258.02 256.20L260.24 256.03L262.47 255.86L264.70 255.70L266.92 255.54L269.15 255.39L271.38 255.24L273.60 255.09L275.83 254.95L278.06 254.81L280.29 254.67L282.51 254.53L284.74 254.40L286.97 254.27L289.20 254.14L291.43 254.02L293.66 253.89L295.89 253.77L298.12 253.65L300.35 253.53L302.58 253.41L304.81 253.29L307.04 253.17L309.27 253.05L311.49 252.93L313.72 252.81L315.95 252.69L318.18 252.57L320.41 252.44L322.64 252.32L324.87 252.19L327.10 252.07L329.33 251.94L331.55 251.81L333.78 251.68L336.01 251.54L338.24 251.40L340.46 251.26L342.69 251.12L344.92 250.97L347.14 250.82L349.37 250.67L351.60 250.51L353.82 250.35L356.05 250.19L358.27 250.02L360.50 249.85L362.72 249.68L364.94 249.50L367.17 249.31L369.39 249.12L371.61 248.93L373.84 248.73L376.06 248.53L378.28 248.32L380.50 248.10L382.72 247.88L384.94 247.66L387.16 247.43L389.38 247.19L391.60 246.95L393.82 246.70L396.04 246.44L398.26 246.18L400.47 245.91L402.69 245.63L404.91 245.35L407.12 245.06L409.34 244.77L411.55 244.48L413.77 244.18L415.98 243.88L418.20 243.58L420.41 243.28L422.63 242.98L424.84 242.67L427.06 242.37L429.27 242.07L431.49 241.77L433.70 241.47L435.91 241.17L438.13 240.87L440.34 240.57L442.56 240.27L444.77 239.97L446.98 239.67L449.20 239.37L451.41 239.07L453.62 238.77L455.84 238.47L458.05 238.17L460.26 237.87L462.48 237.57L464.69 237.27L466.90 236.97L469.12 236.68L471.33 236.38L473.54 236.08L475.75 235.78L477.97 235.48L480.18 235.19L482.39 234.89L484.60 234.59L486.82 234.29L489.03 234.00L491.24 233.70L493.45 233.40L495.67 233.10L497.88 232.81L500.09 232.51L502.30 232.21L504.52 231.92L506.73 231.62L508.94 231.33L511.15 231.03L513.36 230.73L515.58 230.44L517.79 230.14L520.00 229.85L522.21 229.55L524.42 229.26L526.64 228.96L528.85 228.67L531.06 228.37L533.27 228.08L535.48 227.78L537.70 227.49L539.91 227.20L542.12 226.90L544.33 226.61L546.54 226.31L548.76 226.02L550.97 225.73L553.18 225.43L555.39 225.14L557.61 224.85L559.82 224.56L562.03 224.26L564.24 223.97L566.45 223.68L568.67 223.39L570.88 223.09L573.09 222.80L575.30 222.51L577.52 222.22L579.73 221.93L581.94 221.64L584.15 221.34L586.37 221.05L588.58 220.76L590.79 220.47L593.00 220.18L595.22 219.89L597.43 219.60L599.64 219.31L601.85 219.02L604.07 218.73L606.28 218.44L608.49 218.15L610.71 217.86L612.92 217.58L615.13 217.29L617.35 217.00L619.56 216.71L621.77 216.42L623.99 216.13L626.20 215.84L628.41 215.56L630.63 215.27L632.84 214.98L635.06 214.69L637.27 214.41L639.48 214.12L641.70 213.84L643.91 213.55L646.13 213.27L648.34 212.98L650.56 212.70L652.77 212.41L654.99 212.13L657.20 211.85L659.42 211.57L661.63 211.28L663.85 211.00L666.06 210.72L668.28 210.45L670.49 210.17L672.71 209.89L674.92 209.61L677.14 209.34L679.35 209.06L681.57 208.79L683.79 208.51L686.00 208.24L688.22 207.97L690.43 207.70L692.65 207.43L694.87 207.16L697.08 206.89L699.30 206.63L701.52 206.36L703.74 206.10L705.95 205.83L708.17 205.57L710.39 205.31L712.60 205.05L714.82 204.79L717.04 204.54L719.26 204.28L721.48 204.03L723.69 203.78L725.91 203.52L728.13 203.27L730.35 203.03L732.57 202.78L734.79 202.53L737.01 202.29L739.23 202.05L741.44 201.81L743.66 201.57L745.88 201.33L748.10 201.09L750.32 200.86L752.54 200.63L754.76 200.40L756.98 200.17L759.20 199.94L761.42 199.71L763.64 199.49L765.87 199.27L768.09 199.05L770.31 198.83L772.53 198.62L774.75 198.40" stroke="#ff7f00" stroke-width="4.60"/>
<path d="M101.40 294.99L103.40 293.91L105.39 292.80L107.37 291.66L109.35 290.52L111.33 289.38L113.32 288.24L115.31 287.11L117.31 286.01L119.32 284.94L121.35 283.90L123.40 282.89L125.46 281.92L127.54 281.00L129.64 280.11L131.75 279.28L133.89 278.49L136.04 277.74L138.20 277.00L140.36 276.28L142.53 275.57L144.71 274.87L146.89 274.19L149.07 273.52L151.26 272.86L153.46 272.22L155.65 271.60L157.86 270.99L160.06 270.39L162.27 269.82L164.49 269.26L166.71 268.71L168.93 268.19L171.15 267.68L173.38 267.18L175.61 266.71L177.84 266.24L180.08 265.80L182.32 265.36L184.56 264.94L186.80 264.54L189.05 264.15L191.30 263.77L193.55 263.40L195.80 263.05L198.06 262.71L200.31 262.38L202.57 262.06L204.83 261.75L207.09 261.45L209.36 261.16L211.62 260.88L213.89 260.61L216.15 260.34L218.42 260.09L220.69 259.84L222.95 259.60L225.22 259.37L227.49 259.15L229.77 258.93L232.04 258.72L234.31 258.52L236.58 258.32L238.86 258.13L241.13 257.95L243.41 257.77L245.68 257.60L247.96 257.43L250.23 257.27L252.51 257.11L254.79 256.96L257.07 256.81L259.35 256.67L261.63 256.53L263.91 256.39L266.19 256.26L268.47 256.13L270.75 256.01L273.03 255.89L275.31 255.77L277.59 255.65L279.87 255.54L282.15 255.42L284.44 255.31L286.72 255.20L289.00 255.10L291.28 254.99L293.57 254.88L295.85 254.78L298.13 254.68L300.42 254.57L302.70 254.47L304.98 254.37L307.27 254.26L309.55 254.16L311.83 254.05L314.12 253.95L316.40 253.84L318.68 253.73L320.96 253.62L323.25 253.51L325.53 253.40L327.81 253.28L330.09 253.16L332.37 253.04L334.65 252.92L336.93 252.79L339.21 252.66L341.49 252.53L343.77 252.39L346.05 252.25L348.33 252.10L350.61 251.96L352.89 251.80L355.16 251.65L357.44 251.49L359.72 251.33L362.00 251.17L364.27 251.00L366.55 250.83L368.82 250.66L371.10 250.48L373.37 250.30L375.65 250.12L377.92 249.94L380.20 249.75L382.47 249.56L384.75 249.37L387.02 249.17L389.29 248.97L391.57 248.78L393.84 248.57L396.11 248.37L398.38 248.16L400.65 247.95L402.93 247.74L405.20 247.53L407.47 247.32L409.74 247.10L412.01 246.88L414.28 246.66L416.55 246.44L418.82 246.22L421.09 245.99L423.36 245.76L425.63 245.54L427.90 245.31L430.17 245.07L432.44 244.84L434.71 244.61L436.98 244.37L439.25 244.14L441.52 243.90L443.79 243.66L446.06 243.42L448.33 243.18L450.60 242.94L452.87 242.70L455.14 242.45L457.40 242.21L459.67 241.97L461.94 241.72L464.21 241.47L466.48 241.23L468.75 240.98L471.01 240.73L473.28 240.48L475.55 240.23L477.82 239.98L480.09 239.73L482.36 239.48L484.62 239.23L486.89 238.97L489.16 238.72L491.43 238.46L493.69 238.21L495.96 237.95L498.23 237.69L500.50 237.44L502.76 237.18L505.03 236.92L507.30 236.66L509.57 236.40L511.83 236.14L514.10 235.88L516.37 235.62L518.64 235.36L520.90 235.09L523.17 234.83L525.44 234.57L527.70 234.30L529.97 234.04L532.24 233.77L534.51 233.51L536.77 233.24L539.04 232.98L541.31 232.71L543.57 232.44L545.84 232.17L548.11 231.91L550.37 231.64L552.64 231.37L554.91 231.10L557.17 230.83L559.44 230.56L561.71 230.29L563.97 230.02L566.24 229.75L568.50 229.48L570.77 229.21L573.04 228.94L575.30 228.66L577.57 228.39L579.84 228.12L582.10 227.85L584.37 227.57L586.64 227.30L588.90 227.03L591.17 226.75L593.43 226.48L595.70 226.20L597.97 225.93L600.23 225.66L602.50 225.38L604.76 225.11L607.03 224.83L609.30 224.56L611.56 224.28L613.83 224.01L616.10 223.73L618.36 223.46L620.63 223.18L622.89 222.91L625.16 222.63L627.43 222.36L629.69 222.08L631.96 221.81L634.22 221.53L636.49 221.26L638.76 220.98L641.02 220.70L643.29 220.43L645.55 220.15L647.82 219.88L650.09 219.60L652.35 219.33L654.62 219.05L656.88 218.78L659.15 218.50L661.42 218.23L663.68 217.96L665.95 217.68L668.21 217.41L670.48 217.13L672.75 216.86L675.01 216.59L677.28 216.31L679.55 216.04L681.81 215.77L684.08 215.49L686.34 215.22L688.61 214.95L690.88 214.68L693.14 214.41L695.41 214.14L697.68 213.86L699.94 213.59L702.21 213.32L704.47 213.05L706.74 212.78L709.01 212.51L711.27 212.24L713.54 211.98L715.81 211.71L718.07 211.44L720.34 211.17L722.61 210.91L724.87 210.64L727.14 210.37L729.41 210.11L731.67 209.84L733.94 209.58L736.21 209.31L738.47 209.05L740.74 208.79L743.01 208.52L745.28 208.26L747.54 208.00L749.81 207.74L752.08 207.48L754.34 207.22L756.61 206.96L758.88 206.70L761.15 206.44L763.41 206.18L765.68 205.92L767.95 205.67L770.21 205.41L772.48 205.16L774.75 204.90" stroke="#000" stroke-width="4.75" stroke-dasharray="16.08 6.43 7.03 6.43" stroke-dashoffset="19.00"/>
<path d="M105.40 292.70 A148.70 148.70 0 0 1 254.10 441.40" stroke="#000" stroke-width="0.9"/>
</g>
<g>
<line x1="138.50" y1="441.40" x2="138.50" y2="436.60" stroke="#454545" stroke-width="1.00"/>
<line x1="138.50" y1="27.50" x2="138.50" y2="32.00" stroke="#7a7a7a" stroke-width="1.00"/>
<line x1="172.50" y1="441.40" x2="172.50" y2="436.60" stroke="#454545" stroke-width="1.00"/>
<line x1="172.50" y1="27.50" x2="172.50" y2="32.00" stroke="#7a7a7a" stroke-width="1.00"/>
<line x1="205.50" y1="441.40" x2="205.50" y2="436.60" stroke="#454545" stroke-width="1.00"/>
<line x1="205.50" y1="27.50" x2="205.50" y2="32.00" stroke="#7a7a7a" stroke-width="1.00"/>
<line x1="239.50" y1="441.40" x2="239.50" y2="433.40" stroke="#454545" stroke-width="1.00"/>
<line x1="239.50" y1="27.50" x2="239.50" y2="35.00" stroke="#7a7a7a" stroke-width="1.00"/>
<line x1="272.50" y1="441.40" x2="272.50" y2="436.60" stroke="#454545" stroke-width="1.00"/>
<line x1="272.50" y1="27.50" x2="272.50" y2="32.00" stroke="#7a7a7a" stroke-width="1.00"/>
<line x1="306.50" y1="441.40" x2="306.50" y2="436.60" stroke="#454545" stroke-width="1.00"/>
<line x1="306.50" y1="27.50" x2="306.50" y2="32.00" stroke="#7a7a7a" stroke-width="1.00"/>
<line x1="339.50" y1="441.40" x2="339.50" y2="436.60" stroke="#454545" stroke-width="1.00"/>
<line x1="339.50" y1="27.50" x2="339.50" y2="32.00" stroke="#7a7a7a" stroke-width="1.00"/>
<line x1="373.50" y1="441.40" x2="373.50" y2="433.40" stroke="#454545" stroke-width="1.00"/>
<line x1="373.50" y1="27.50" x2="373.50" y2="35.00" stroke="#7a7a7a" stroke-width="1.00"/>
<line x1="406.50" y1="441.40" x2="406.50" y2="436.60" stroke="#454545" stroke-width="1.00"/>
<line x1="406.50" y1="27.50" x2="406.50" y2="32.00" stroke="#7a7a7a" stroke-width="1.00"/>
<line x1="440.50" y1="441.40" x2="440.50" y2="436.60" stroke="#454545" stroke-width="1.00"/>
<line x1="440.50" y1="27.50" x2="440.50" y2="32.00" stroke="#7a7a7a" stroke-width="1.00"/>
<line x1="473.50" y1="441.40" x2="473.50" y2="436.60" stroke="#454545" stroke-width="1.00"/>
<line x1="473.50" y1="27.50" x2="473.50" y2="32.00" stroke="#7a7a7a" stroke-width="1.00"/>
<line x1="507.50" y1="441.40" x2="507.50" y2="433.40" stroke="#454545" stroke-width="1.00"/>
<line x1="507.50" y1="27.50" x2="507.50" y2="35.00" stroke="#7a7a7a" stroke-width="1.00"/>
<line x1="540.50" y1="441.40" x2="540.50" y2="436.60" stroke="#454545" stroke-width="1.00"/>
<line x1="540.50" y1="27.50" x2="540.50" y2="32.00" stroke="#7a7a7a" stroke-width="1.00"/>
<line x1="573.50" y1="441.40" x2="573.50" y2="436.60" stroke="#454545" stroke-width="1.00"/>
<line x1="573.50" y1="27.50" x2="573.50" y2="32.00" stroke="#7a7a7a" stroke-width="1.00"/>
<line x1="607.50" y1="441.40" x2="607.50" y2="436.60" stroke="#454545" stroke-width="1.00"/>
<line x1="607.50" y1="27.50" x2="607.50" y2="32.00" stroke="#7a7a7a" stroke-width="1.00"/>
<line x1="640.50" y1="441.40" x2="640.50" y2="433.40" stroke="#454545" stroke-width="1.00"/>
<line x1="640.50" y1="27.50" x2="640.50" y2="35.00" stroke="#7a7a7a" stroke-width="1.00"/>
<line x1="674.50" y1="441.40" x2="674.50" y2="436.60" stroke="#454545" stroke-width="1.00"/>
<line x1="674.50" y1="27.50" x2="674.50" y2="32.00" stroke="#7a7a7a" stroke-width="1.00"/>
<line x1="707.50" y1="441.40" x2="707.50" y2="436.60" stroke="#454545" stroke-width="1.00"/>
<line x1="707.50" y1="27.50" x2="707.50" y2="32.00" stroke="#7a7a7a" stroke-width="1.00"/>
<line x1="741.50" y1="441.40" x2="741.50" y2="436.60" stroke="#454545" stroke-width="1.00"/>
<line x1="741.50" y1="27.50" x2="741.50" y2="32.00" stroke="#7a7a7a" stroke-width="1.00"/>
<line x1="105.40" y1="428.50" x2="110.20" y2="428.50" stroke="#454545" stroke-width="1.00"/>
<line x1="105.40" y1="414.50" x2="110.20" y2="414.50" stroke="#454545" stroke-width="1.00"/>
<line x1="105.40" y1="401.50" x2="110.20" y2="401.50" stroke="#454545" stroke-width="1.00"/>
<line x1="105.40" y1="387.50" x2="110.20" y2="387.50" stroke="#454545" stroke-width="1.00"/>
<line x1="105.40" y1="374.50" x2="113.40" y2="374.50" stroke="#454545" stroke-width="1.00"/>
<line x1="105.40" y1="361.50" x2="110.20" y2="361.50" stroke="#454545" stroke-width="1.00"/>
<line x1="105.40" y1="347.50" x2="110.20" y2="347.50" stroke="#454545" stroke-width="1.00"/>
<line x1="105.40" y1="334.50" x2="110.20" y2="334.50" stroke="#454545" stroke-width="1.00"/>
<line x1="105.40" y1="320.50" x2="110.20" y2="320.50" stroke="#454545" stroke-width="1.00"/>
<line x1="105.40" y1="307.50" x2="113.40" y2="307.50" stroke="#454545" stroke-width="1.00"/>
<line x1="105.40" y1="294.50" x2="110.20" y2="294.50" stroke="#454545" stroke-width="1.00"/>
<line x1="105.40" y1="280.50" x2="110.20" y2="280.50" stroke="#454545" stroke-width="1.00"/>
<line x1="105.40" y1="267.50" x2="110.20" y2="267.50" stroke="#454545" stroke-width="1.00"/>
<line x1="105.40" y1="253.50" x2="110.20" y2="253.50" stroke="#454545" stroke-width="1.00"/>
<line x1="105.40" y1="240.50" x2="113.40" y2="240.50" stroke="#454545" stroke-width="1.00"/>
<line x1="105.40" y1="227.50" x2="110.20" y2="227.50" stroke="#454545" stroke-width="1.00"/>
<line x1="105.40" y1="213.50" x2="110.20" y2="213.50" stroke="#454545" stroke-width="1.00"/>
<line x1="105.40" y1="200.50" x2="110.20" y2="200.50" stroke="#454545" stroke-width="1.00"/>
<line x1="105.40" y1="186.50" x2="110.20" y2="186.50" stroke="#454545" stroke-width="1.00"/>
<line x1="105.40" y1="173.50" x2="113.40" y2="173.50" stroke="#454545" stroke-width="1.00"/>
<line x1="105.40" y1="160.50" x2="110.20" y2="160.50" stroke="#454545" stroke-width="1.00"/>
<line x1="105.40" y1="146.50" x2="110.20" y2="146.50" stroke="#454545" stroke-width="1.00"/>
<line x1="105.40" y1="133.50" x2="110.20" y2="133.50" stroke="#454545" stroke-width="1.00"/>
<line x1="105.40" y1="119.50" x2="110.20" y2="119.50" stroke="#454545" stroke-width="1.00"/>
<line x1="105.40" y1="106.50" x2="113.40" y2="106.50" stroke="#454545" stroke-width="1.00"/>
<line x1="105.40" y1="93.50" x2="110.20" y2="93.50" stroke="#454545" stroke-width="1.00"/>
<line x1="105.40" y1="79.50" x2="110.20" y2="79.50" stroke="#454545" stroke-width="1.00"/>
<line x1="105.40" y1="66.50" x2="110.20" y2="66.50" stroke="#454545" stroke-width="1.00"/>
<line x1="105.40" y1="52.50" x2="110.20" y2="52.50" stroke="#454545" stroke-width="1.00"/>
<line x1="105.40" y1="39.50" x2="113.40" y2="39.50" stroke="#454545" stroke-width="1.00"/>
<line x1="774.75" y1="407.50" x2="770.25" y2="407.50" stroke="#7a7a7a" stroke-width="1.00"/>
<line x1="774.75" y1="374.50" x2="767.95" y2="374.50" stroke="#7a7a7a" stroke-width="1.00"/>
<line x1="774.75" y1="340.50" x2="770.25" y2="340.50" stroke="#7a7a7a" stroke-width="1.00"/>
<line x1="774.75" y1="307.50" x2="767.95" y2="307.50" stroke="#7a7a7a" stroke-width="1.00"/>
<line x1="774.75" y1="273.50" x2="770.25" y2="273.50" stroke="#7a7a7a" stroke-width="1.00"/>
<line x1="774.75" y1="240.50" x2="767.95" y2="240.50" stroke="#7a7a7a" stroke-width="1.00"/>
<line x1="774.75" y1="206.50" x2="770.25" y2="206.50" stroke="#7a7a7a" stroke-width="1.00"/>
<line x1="774.75" y1="173.50" x2="767.95" y2="173.50" stroke="#7a7a7a" stroke-width="1.00"/>
<line x1="774.75" y1="139.50" x2="770.25" y2="139.50" stroke="#7a7a7a" stroke-width="1.00"/>
<line x1="774.75" y1="106.50" x2="767.95" y2="106.50" stroke="#7a7a7a" stroke-width="1.00"/>
<line x1="774.75" y1="73.50" x2="770.25" y2="73.50" stroke="#7a7a7a" stroke-width="1.00"/>
<line x1="774.75" y1="39.50" x2="767.95" y2="39.50" stroke="#7a7a7a" stroke-width="1.00"/>
</g>
<rect x="105.40" y="27.50" width="669.35" height="413.90" fill="none" stroke="#1c1c1c" stroke-width="0.85"/>
<g opacity="0.999">
<text x="106.40" y="480.6" text-anchor="middle" font-size="24.8" letter-spacing="2">0.0</text>
<text x="240.27" y="480.6" text-anchor="middle" font-size="24.8" letter-spacing="2">0.2</text>
<text x="374.14" y="480.6" text-anchor="middle" font-size="24.8" letter-spacing="2">0.4</text>
<text x="508.01" y="480.6" text-anchor="middle" font-size="24.8" letter-spacing="2">0.6</text>
<text x="641.88" y="480.6" text-anchor="middle" font-size="24.8" letter-spacing="2">0.8</text>
<text x="775.75" y="480.6" text-anchor="middle" font-size="24.8" letter-spacing="2">1.0</text>
<text x="99.2" y="451.80" text-anchor="end" font-size="24.8" letter-spacing="2">0.0</text>
<text x="99.2" y="384.82" text-anchor="end" font-size="24.8" letter-spacing="2">0.1</text>
<text x="99.2" y="317.84" text-anchor="end" font-size="24.8" letter-spacing="2">0.2</text>
<text x="99.2" y="250.86" text-anchor="end" font-size="24.8" letter-spacing="2">0.3</text>
<text x="99.2" y="183.88" text-anchor="end" font-size="24.8" letter-spacing="2">0.4</text>
<text x="99.2" y="116.90" text-anchor="end" font-size="24.8" letter-spacing="2">0.5</text>
<text x="99.2" y="49.92" text-anchor="end" font-size="24.8" letter-spacing="2">0.6</text>
<g transform="translate(400.5 536.1)"><text transform="translate(-1.57 0.16) scale(1.1513 0.9424)" font-style="italic" font-size="34.0">r</text><line x1="17.20" y1="7.7" x2="28.80" y2="-24.9" stroke="#000" stroke-width="1.35" stroke-linecap="round"/><text transform="translate(33.16 0.00) scale(1.0690 1.0633)" font-style="italic" font-size="34.0">L</text><text transform="translate(52.69 -14.00) scale(1.1250 0.9091)" font-style="normal" font-size="22.0">2</text><text transform="translate(66.36 -0.04) scale(0.8413 1.0000)" font-style="italic" font-size="34.0">b</text></g>
<g transform="translate(31.0 279.0) rotate(-90)"><text transform="translate(0.17 0.00) scale(1.0245 1.0633)" font-style="italic" font-size="34.0">R</text><line x1="26.60" y1="7.7" x2="38.20" y2="-24.9" stroke="#000" stroke-width="1.35" stroke-linecap="round"/><text transform="translate(42.56 0.00) scale(1.0690 1.0633)" font-style="italic" font-size="34.0">L</text><text transform="translate(62.09 -14.00) scale(1.1250 0.9091)" font-style="normal" font-size="22.0">2</text><text transform="translate(75.76 -0.04) scale(0.8413 1.0000)" font-style="italic" font-size="34.0">b</text></g>
</g>
</svg>
</body>
</html>
